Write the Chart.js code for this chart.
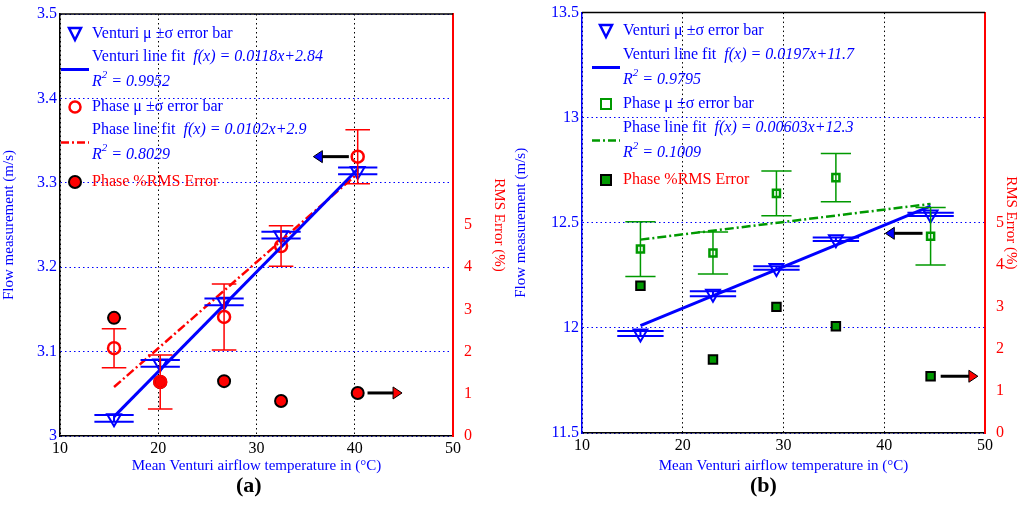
<!DOCTYPE html>
<html><head><meta charset="utf-8">
<script src="https://cdn.jsdelivr.net/npm/chart.js@4"></script>
<style>
body{margin:0;background:#fff;width:1024px;height:527px;overflow:hidden;font-family:"Liberation Serif",serif}
.p{position:absolute;top:0;width:512px;height:475px}
.lab{position:absolute;top:472px;font:bold 22px "Liberation Serif";color:#000}
</style></head><body>
<div class="p" style="left:0"><canvas id="ca"></canvas></div>
<div class="p" style="left:512px"><canvas id="cb"></canvas></div>
<div class="lab" style="left:236px">(a)</div>
<div class="lab" style="left:750px">(b)</div>
<script>
// ---- Panel (a) data ----
const tempA = [15.5, 20.2, 26.7, 32.5, 40.3];
const ventA = [3.021, 3.086, 3.159, 3.238, 3.314];
const ventErrA = [0.004, 0.004, 0.004, 0.004, 0.004];
const phaseA = [3.104, 3.064, 3.141, 3.225, 3.331];
const phaseErrA = [0.023, 0.032, 0.039, 0.024, 0.032];
const rmsA = [2.8, 1.28, 1.3, 0.83, 1.02];
const ventFitA = [3.023, 3.316];
const phaseFitA = [3.058, 3.311];
const fitXA = [15.5, 40.3];
const yTicksA = [3.0, 3.1, 3.2, 3.3, 3.4, 3.5];
// ---- Panel (b) data ----
const tempB = [15.8, 23.0, 29.3, 35.2, 44.6];
const ventB = [11.973, 12.162, 12.285, 12.422, 12.54];
const ventErrB = [0.012, 0.012, 0.008, 0.008, 0.008];
const phaseB = [12.375, 12.356, 12.64, 12.715, 12.436];
const phaseErrB = [0.13, 0.1, 0.107, 0.115, 0.137];
const rmsB = [3.5, 1.75, 3.0, 2.54, 1.35];
const ventFitB = [12.011, 12.579];
const phaseFitB = [12.42, 12.59];
const fitXB = [15.8, 44.6];
const yTicksB = [11.5, 12, 12.5, 13, 13.5];
const rmsTicks = [0, 1, 2, 3, 4, 5];

const F = "Liberation Serif";
const BLUE = "#0000ff", RED = "#ff0000", GREEN = "#009900";

function pts(xs, ys){ return xs.map((x,i)=>({x, y:ys[i]})); }

function makePanel(id, o){
  const errPlugin = {
    id:'err',
    afterDatasetsDraw(ch){
      const {ctx, scales:{x, y, y2}} = ch;
      ctx.save();
      o.bars.forEach(b=>{
        ctx.strokeStyle=b.color; ctx.lineWidth=b.lw;
        b.xs.forEach((xv,i)=>{
          const px=x.getPixelForValue(xv);
          const t=y.getPixelForValue(b.ys[i]+b.err[i]), bt=y.getPixelForValue(b.ys[i]-b.err[i]);
          const c0=x.getPixelForValue(xv-b.cap), c1=x.getPixelForValue(xv+b.cap);
          ctx.beginPath();
          ctx.moveTo(px,t);ctx.lineTo(px,bt);
          ctx.moveTo(c0,t);ctx.lineTo(c1,t);
          ctx.moveTo(c0,bt);ctx.lineTo(c1,bt);
          ctx.stroke();
        });
      });
      const arrow=(x0,x1,py,head)=>{
        ctx.strokeStyle='#000';ctx.lineWidth=3;
        ctx.beginPath();ctx.moveTo(x0,py);ctx.lineTo(x1,py);ctx.stroke();
        const d=Math.sign(x1-x0);
        ctx.fillStyle=head;ctx.strokeStyle='#000';ctx.lineWidth=1;
        ctx.beginPath();ctx.moveTo(x1+d*8,py);ctx.lineTo(x1-d*1,py-6);ctx.lineTo(x1-d*1,py+6);ctx.closePath();ctx.fill();ctx.stroke();
      };
      const la=o.leftArrow, ra=o.rightArrow;
      arrow(x.getPixelForValue(la[1]),x.getPixelForValue(la[0]),y.getPixelForValue(la[2]),BLUE);
      arrow(x.getPixelForValue(ra[0]),x.getPixelForValue(ra[1]),y2.getPixelForValue(ra[2]),RED);
      const L=o.legend, rows=L.rows, tx=L.tx, mx=L.mx;
      ctx.textBaseline='middle';
      const put=(parts,yy)=>{let cx=tx;parts.forEach(([s,it,col,sup])=>{ctx.font=(it?'italic ':'')+(sup?'11px':'16px')+' "'+F+'"';ctx.fillStyle=col||BLUE;ctx.fillText(s,cx,sup?yy-7:yy);cx+=ctx.measureText(s).width;});};
      put([['Venturi μ ±σ error bar']],rows[0]);
      put([['Venturi line fit  '],['f(x) = '+o.vfit,true]],rows[1]);
      put([['R',true],['2',true,null,true],[' = '+o.vr2,true]],rows[2]);
      put([['Phase μ ±σ error bar']],rows[3]);
      put([['Phase line fit  '],['f(x) = '+o.pfit,true]],rows[4]);
      put([['R',true],['2',true,null,true],[' = '+o.pr2,true]],rows[5]);
      put([['Phase %RMS Error',false,RED]],rows[6]);
      ctx.lineWidth=2.5;ctx.strokeStyle=BLUE;
      ctx.beginPath();ctx.moveTo(mx-6,rows[0]-6);ctx.lineTo(mx+6,rows[0]-6);ctx.lineTo(mx,rows[0]+6);ctx.closePath();ctx.stroke();
      ctx.lineWidth=3;ctx.beginPath();ctx.moveTo(mx-14,(rows[1]+rows[2])/2);ctx.lineTo(mx+14,(rows[1]+rows[2])/2);ctx.stroke();
      ctx.strokeStyle=o.pcol;ctx.lineWidth=2.5;
      if(o.pshape==='circle'){ctx.beginPath();ctx.arc(mx,rows[3],5.5,0,7);ctx.stroke();}
      else{ctx.lineWidth=2;ctx.strokeRect(mx-5,rows[3]-5,10,10);}
      ctx.setLineDash([8,3,2,3]);ctx.lineWidth=2.5;
      ctx.beginPath();ctx.moveTo(mx-14,(rows[4]+rows[5])/2);ctx.lineTo(mx+14,(rows[4]+rows[5])/2);ctx.stroke();
      ctx.setLineDash([]);
      ctx.strokeStyle='#000';ctx.lineWidth=2;ctx.fillStyle=o.rmsFill;
      if(o.pshape==='circle'){ctx.beginPath();ctx.arc(mx,rows[6],6,0,7);ctx.fill();ctx.stroke();}
      else{ctx.fillRect(mx-5,rows[6]-5,10,10);ctx.strokeRect(mx-5,rows[6]-5,10,10);}
      ctx.strokeStyle='#000';ctx.lineWidth=1.5;
      ctx.beginPath();ctx.moveTo(x.left,y.top);ctx.lineTo(x.right,y.top);ctx.stroke();
      ctx.restore();
    }
  };
  const dash=[1.5,3];
  new Chart(document.getElementById(id),{
    type:'scatter',
    data:{datasets:[
      {data:pts(o.fitX,o.vfitY),showLine:true,borderColor:BLUE,borderWidth:3,pointRadius:0,yAxisID:'y'},
      {data:pts(o.fitX,o.pfitY),showLine:true,borderColor:o.pcol,borderWidth:2.5,borderDash:[9,3,2,3],pointRadius:0,yAxisID:'y'},
      {data:pts(o.t,o.vent),pointStyle:'triangle',rotation:180,pointRadius:8,borderColor:BLUE,borderWidth:2,backgroundColor:'rgba(0,0,0,0)',yAxisID:'y'},
      {data:pts(o.t,o.phase),pointStyle:o.pshape==='circle'?'circle':'rect',pointRadius:o.pshape==='circle'?6:5,borderColor:o.pcol,borderWidth:2.5,backgroundColor:'rgba(0,0,0,0)',yAxisID:'y'},
      {data:pts(o.t,o.rms),pointStyle:o.pshape==='circle'?'circle':'rect',pointRadius:6,borderColor:'#000',borderWidth:2,backgroundColor:o.rmsFill,yAxisID:'y2'}
    ]},
    options:{
      responsive:false,animation:false,
      layout:{padding:{top:o.top,left:0,right:0,bottom:0}},
      plugins:{legend:{display:false},tooltip:{enabled:false}},
      scales:{
        x:{type:'linear',min:10,max:50,afterBuildTicks:s=>{s.ticks=[10,20,30,40,50].map(v=>({value:v}));},
          grid:{color:'#000',lineWidth:1,drawTicks:false},
          border:{color:'#000',width:1.5,dash:dash},
          ticks:{color:'#000',font:{family:F,size:16},padding:3,maxRotation:0},
          title:{display:true,text:'Mean Venturi airflow temperature in (°C)',color:BLUE,font:{family:F,size:15},padding:{top:0,bottom:0}},
          afterFit:s=>{s.height=o.xh;}},
        y:{position:'left',min:o.ymin,max:o.ymax,afterBuildTicks:s=>{s.ticks=o.yticks.map(v=>({value:v}));},
          grid:{color:BLUE,lineWidth:1,drawTicks:false},
          border:{color:o.leftBorder,width:1.5,dash:dash},
          ticks:{color:BLUE,font:{family:F,size:16},padding:3,callback:v=>String(v)},
          title:{display:true,text:'Flow measurement (m/s)',color:BLUE,font:{family:F,size:15},padding:{top:0,bottom:4}},
          afterFit:s=>{s.width=o.lw;}},
        y2:{position:'right',min:0,max:10,afterBuildTicks:s=>{s.ticks=rmsTicks.map(v=>({value:v}));},
          grid:{display:false,drawOnChartArea:false},
          border:{color:RED,width:2},
          ticks:{color:RED,font:{family:F,size:16},padding:3},
          title:{display:true,text:'RMS Error (%)',color:RED,font:{family:F,size:15},padding:{top:4,bottom:0}},
          afterFit:s=>{s.width=o.rw;}}
      }
    },
    plugins:[errPlugin]
  });
}
document.getElementById('ca').width=512;document.getElementById('ca').height=475;
document.getElementById('cb').width=512;document.getElementById('cb').height=475;

makePanel('ca',{t:tempA,vent:ventA,phase:phaseA,rms:rmsA,fitX:fitXA,vfitY:ventFitA,pfitY:phaseFitA,
  ymin:3.0,ymax:3.5,yticks:yTicksA,pcol:RED,pshape:'circle',rmsFill:RED,leftBorder:'#000',
  bars:[{xs:tempA,ys:ventA,err:ventErrA,cap:2.0,color:BLUE,lw:2},{xs:tempA,ys:phaseA,err:phaseErrA,cap:1.25,color:RED,lw:1.5}],
  leftArrow:[36.6,39.4,3.331],rightArrow:[41.3,44.0,1.02],
  vfit:'0.0118x+2.84',vr2:'0.9952',pfit:'0.0102x+2.9',pr2:'0.8029',
  legend:{mx:75,tx:92,rows:[34,57,82,107,130,155,182]},
  top:14,lw:60,rw:59,xh:39});
makePanel('cb',{t:tempB,vent:ventB,phase:phaseB,rms:rmsB,fitX:fitXB,vfitY:ventFitB,pfitY:phaseFitB,
  ymin:11.5,ymax:13.5,yticks:yTicksB,pcol:GREEN,pshape:'rect',rmsFill:GREEN,leftBorder:BLUE,
  bars:[{xs:tempB,ys:ventB,err:ventErrB,cap:2.3,color:BLUE,lw:2},{xs:tempB,ys:phaseB,err:phaseErrB,cap:1.5,color:GREEN,lw:1.5}],
  leftArrow:[40.9,43.8,12.45],rightArrow:[45.6,48.5,1.35],
  vfit:'0.0197x+11.7',vr2:'0.9795',pfit:'0.00603x+12.3',pr2:'0.1009',
  legend:{mx:94,tx:111,rows:[31,55,80,104,128,153,180]},
  top:10,lw:70,rw:39,xh:42});
</script></body></html>
